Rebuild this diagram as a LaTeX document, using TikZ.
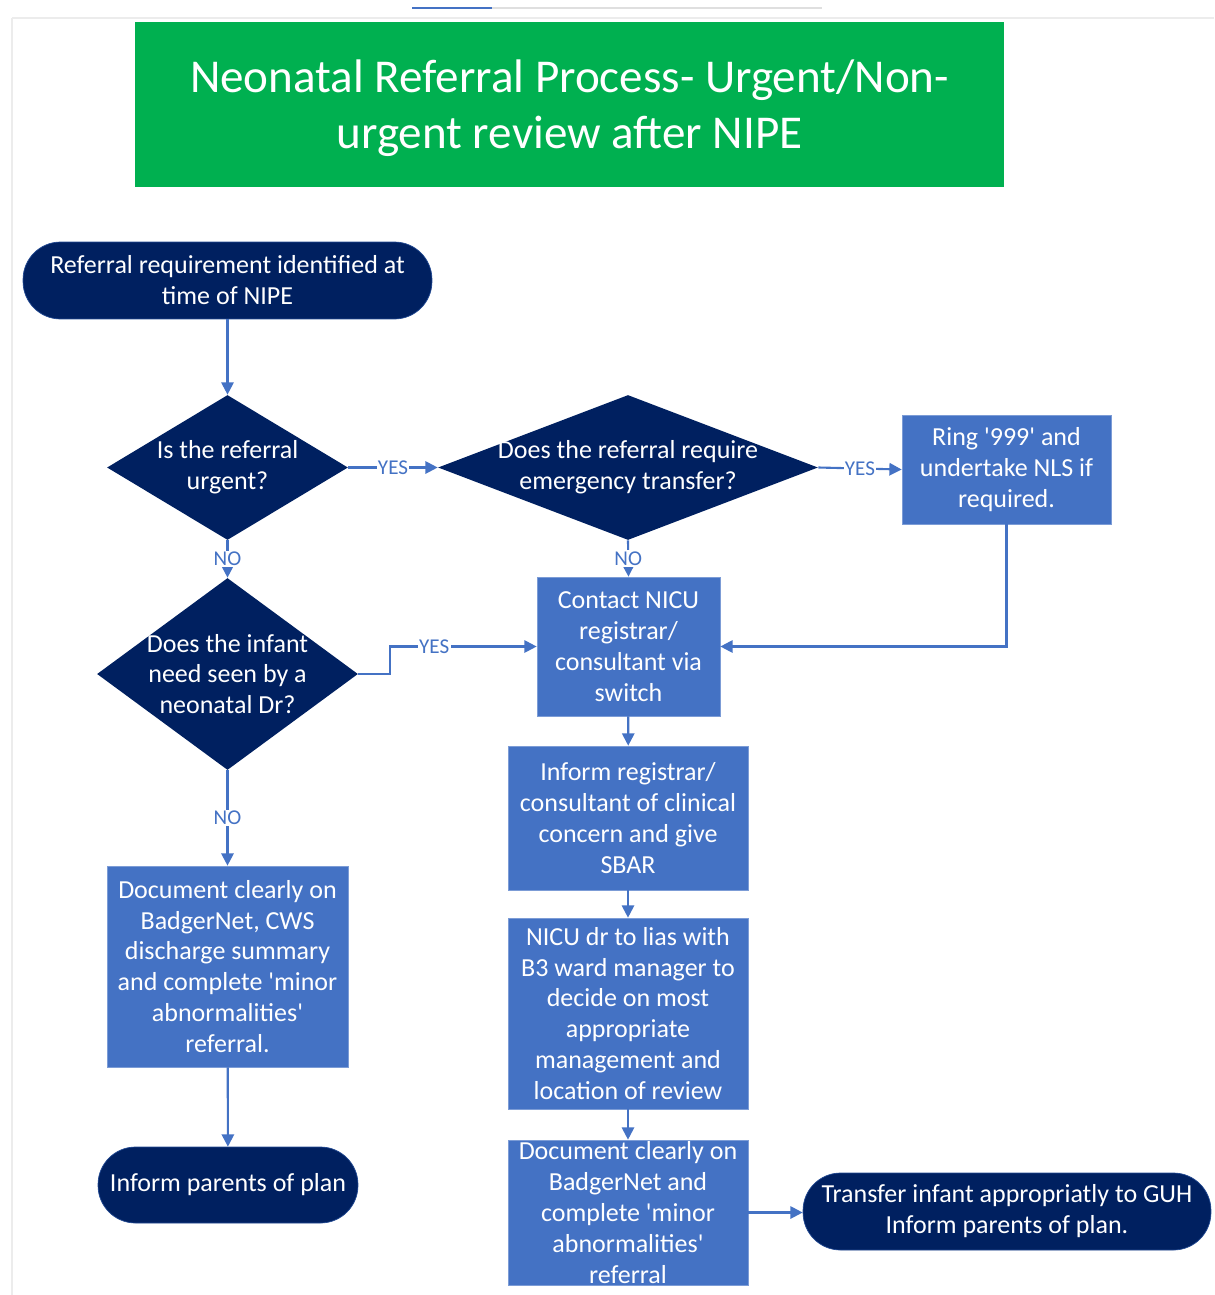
\documentclass[tikz,border=0pt]{standalone}
\usepackage{fontspec}
\setmainfont{Carlito}
\usetikzlibrary{arrows.meta,shapes.geometric}

\definecolor{nipegreen}{HTML}{00B050}
\definecolor{nipenavy}{HTML}{002060}
\definecolor{nipeblue}{HTML}{4472C4}

\newcommand\titlefont{\fontsize{26.8}{31.7}\selectfont}
\newcommand\boxfont{\fontsize{14.8}{17.6}\selectfont}
\newcommand\sq{\textquotesingle}

\tikzset{
  terminal/.style={rectangle,rounded corners=0.75cm,fill=nipenavy,draw=nipeblue!50!nipenavy,
    text=white,align=center,font=\boxfont,inner sep=0pt},
  process/.style={rectangle,fill=nipeblue,draw=nipeblue!70!white,text=white,align=center,
    font=\boxfont,inner sep=0pt},
  decision/.style={diamond,fill=nipenavy,inner sep=0pt},
  dtext/.style={text=white,align=center,font=\boxfont,inner sep=0pt},
  flow/.style={nipeblue,line width=1.2pt,-{Triangle[length=7pt,width=7pt]}},
  answer/.style={fill=white,text=nipeblue,font=\fontsize{12}{14}\selectfont,inner sep=0.8pt}
}

\begin{document}
\begin{tikzpicture}[x=0.02cm,y=-0.02cm]
  \useasboundingbox (0,0) rectangle (1214,1295);
  \draw[gray!15,line width=0.6pt] (12,18) -- (1214,18);
  \draw[gray!15,line width=0.6pt] (12,18) -- (12,1295);
  \draw[gray!25,line width=1pt] (412,8) -- (822,8);
  \draw[nipeblue,line width=1.2pt] (412,8) -- (492,8);

  \node[rectangle,fill=nipegreen,minimum width=17.38cm,minimum height=3.3cm] (title) at (569.5,104.5) {};
  \node[text=white,align=center,font=\titlefont] (titlet) at ([yshift=-0.08cm]title)
    {Neonatal Referral Process- Urgent/Non-\\urgent review after NIPE};

  \node[terminal,minimum width=8.18cm,minimum height=1.54cm] (start) at (227.5,280.5)
    {Referral requirement identified at\\time of NIPE};

  \node[decision,minimum width=4.82cm,minimum height=2.9cm] (q1) at (227.5,467.5) {};
  \node[dtext] (q1t) at (q1) {Is the referral\\urgent?};
  \node[decision,minimum width=7.6cm,minimum height=2.9cm] (q2) at (628,467.5) {};
  \node[dtext] (q2t) at (q2) {Does the referral require\\emergency transfer?};
  \node[process,minimum width=4.18cm,minimum height=2.18cm] (ring) at (1006.5,469.5)
    {Ring \sq999\sq{} and\\undertake NLS if\\required.};

  \node[decision,minimum width=5.22cm,minimum height=3.84cm] (q3) at (227.5,674) {};
  \node[dtext] (q3t) at (q3) {Does the infant\\need seen by a\\neonatal Dr?};
  \node[process,minimum width=3.66cm,minimum height=2.78cm] (contact) at (628.5,646.5)
    {Contact NICU\\registrar/\\consultant via\\switch};

  \node[process,minimum width=4.8cm,minimum height=2.88cm] (inform) at (628,818)
    {Inform registrar/\\consultant of clinical\\concern and give\\SBAR};
  \node[process,minimum width=4.8cm,minimum height=3.82cm] (lias) at (628,1013.5)
    {NICU dr to lias with\\B3 ward manager to\\decide on most\\appropriate\\management and\\location of review};
  \node[process,minimum width=4.8cm,minimum height=2.9cm] (docright) at (628,1212.5)
    {Document clearly on\\BadgerNet and\\complete \sq minor\\abnormalities\sq\\referral};
  \node[terminal,minimum width=8.16cm,minimum height=1.54cm] (transfer) at (1007,1211.5)
    {Transfer infant appropriatly to GUH\\Inform parents of plan.};

  \node[process,minimum width=4.82cm,minimum height=4.02cm] (docleft) at (227.5,966.5)
    {Document clearly on\\BadgerNet, CWS\\discharge summary\\and complete \sq minor\\abnormalities\sq\\referral.};
  \node[terminal,minimum width=5.2cm,minimum height=1.52cm] (parents) at (228,1185)
    {Inform parents of plan};

  \draw[flow] (start) -- (q1);
  \draw[flow] (q1.east) -- node[answer]{YES} (q2.west);
  \draw[flow] (q2.east) -- node[answer]{YES} (ring.west);
  \draw[flow] (q1.south) -- node[answer]{NO} (q3.north);
  \draw[flow] (q2.south) -- node[answer]{NO} (contact.north);
  \draw[flow] (q3.east) -- ++(32,0) |- node[answer,pos=0.65]{YES} (contact.west);
  \draw[flow] (ring.south) |- (contact.east);
  \draw[flow] (contact) -- (inform);
  \draw[flow] (inform) -- (lias);
  \draw[flow] (lias) -- (docright);
  \draw[flow] (docright.east) -- (docright.east -| transfer.west);
  \draw[flow] (q3.south) -- node[answer]{NO} (docleft.north);
  \draw[flow] (docleft) -- (parents);
\end{tikzpicture}
\end{document}
